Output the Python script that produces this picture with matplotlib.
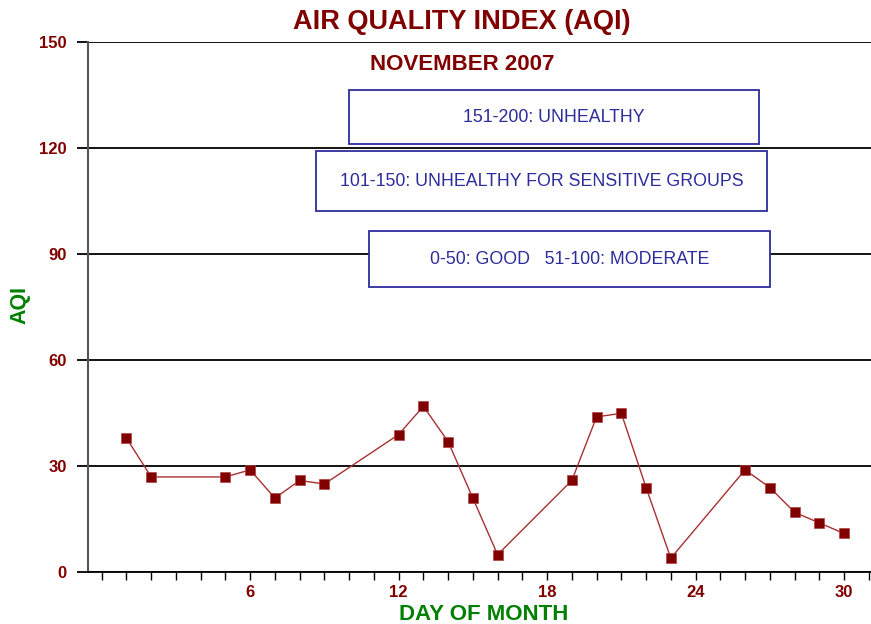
import matplotlib
matplotlib.use('Agg')
import matplotlib.pyplot as plt

# AQI readings for November 2007 (days with data only)
days = [1, 2, 5, 6, 7, 8, 9, 12, 13, 14, 15, 16, 19, 20, 21, 22, 23, 26, 27, 28, 29, 30]
aqi = [38, 27, 27, 29, 21, 26, 25, 39, 47, 37, 21, 5, 26, 44, 45, 24, 4, 29, 24, 17, 14, 11]

y_ticks = [0, 30, 60, 90, 120, 150]
x_labelled = [6, 12, 18, 24, 30]
legend_notes = ["151-200: UNHEALTHY",
                "101-150: UNHEALTHY FOR SENSITIVE GROUPS",
                "0-50: GOOD   51-100: MODERATE"]

DARK_RED = '#800000'
GREEN = '#008000'
BLUE = '#2c2c9c'

plt.rcParams['font.family'] = ['Liberation Sans', 'DejaVu Sans']

fig = plt.figure(figsize=(8.71, 6.24), dpi=100)
ax = fig.add_axes([0.1014, 0.0828, 0.8986, 0.8494])

# line + square markers
ax.plot(days, aqi, color='#a83030', lw=1.0, zorder=3)
ax.plot(days, aqi, ls='none', marker='s', ms=7.5, color=DARK_RED,
        markeredgecolor='#b04040', markeredgewidth=0.5, zorder=4)

ax.set_xlim(-0.54, 31.09)
ax.set_ylim(0, 150)

# horizontal grid lines
ax.set_yticks(y_ticks)
ax.yaxis.grid(True, color='black', lw=1.3)
ax.set_axisbelow(True)
ax.tick_params(axis='y', direction='out', length=8, width=1.3, color='black',
               pad=7.5, labelsize=12, labelcolor=DARK_RED)
for lbl in ax.get_yticklabels():
    lbl.set_fontweight('bold')

# day ticks every day, labels every 6
ax.set_xticks(range(0, 32))
ax.set_xticklabels([str(d) if d in x_labelled else '' for d in range(0, 32)])
ax.tick_params(axis='x', direction='out', length=6, width=1.0, color='black',
               pad=3, labelsize=12, labelcolor=DARK_RED)
for lbl in ax.get_xticklabels():
    lbl.set_fontweight('bold')

for s in ['top', 'right']:
    ax.spines[s].set_visible(False)
ax.spines['left'].set_color('#555555')
ax.spines['left'].set_linewidth(1.5)
ax.spines['bottom'].set_color('black')
ax.spines['bottom'].set_linewidth(1.3)

# titles and axis labels
fig.text(462 / 871, 1 - 22 / 624, 'AIR QUALITY INDEX (AQI)', ha='center', va='center',
         fontsize=19.5, fontweight='bold', color=DARK_RED)
fig.text(462 / 871, 1 - 64 / 624, 'NOVEMBER 2007', ha='center', va='center',
         fontsize=16, fontweight='bold', color=DARK_RED)
fig.text(484 / 871, 1 - 614 / 624, 'DAY OF MONTH', ha='center', va='center',
         fontsize=16, fontweight='bold', color=GREEN)
fig.text(19.5 / 871, 1 - 305 / 624, 'AQI', ha='center', va='center', rotation=90,
         fontsize=15.5, fontweight='bold', color=GREEN)

# legend boxes (pixel boxes: x0, x1, y0, y1)
boxes = [(349, 759, 90, 144), (316, 767, 151, 211), (369, 770, 231, 287)]
for note, (x0, x1, y0, y1) in zip(legend_notes, boxes):
    rect = plt.Rectangle((x0 / 871, 1 - y1 / 624), (x1 - x0) / 871, (y1 - y0) / 624,
                         transform=fig.transFigure, facecolor='white',
                         edgecolor=BLUE, lw=1.3, zorder=5)
    fig.add_artist(rect)
    fig.text((x0 + x1) / 2 / 871, 1 - (y0 + y1) / 2 / 624, note, ha='center', va='center',
             fontsize=12.8, color=BLUE, zorder=6)

fig.savefig('out.png', dpi=100)
